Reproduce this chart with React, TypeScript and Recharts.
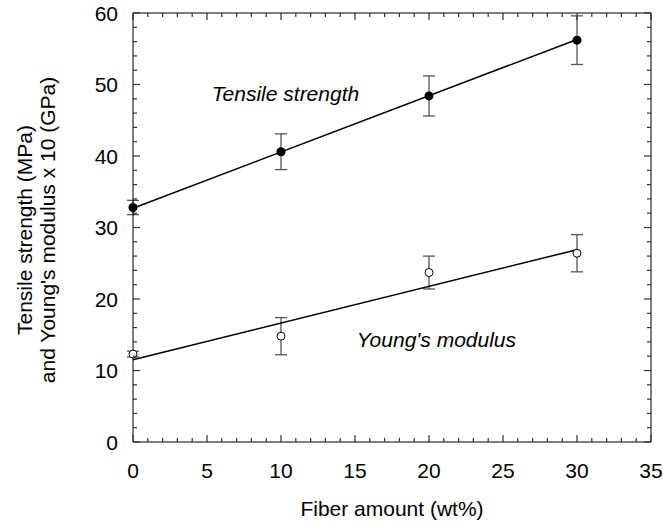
import React from 'react';
import { ComposedChart, Scatter, XAxis, YAxis, ErrorBar, ReferenceDot, Label } from 'recharts';

// measured points (wt% fiber)
const fiber = [0, 10, 20, 30];
const tensile = [32.8, 40.6, 48.4, 56.2];
const tensileErr = [1.0, 2.5, 2.8, 3.4];
const modulus = [12.3, 14.8, 23.7, 26.4];
const modulusErr = [0.4, 2.6, 2.3, 2.6];

// linear fits, read at both ends
const fitX = [0, 30];
const tensileFit = [32.7, 56.3];
const modulusFit = [11.5, 26.9];

const xMajor = [0, 5, 10, 15, 20, 25, 30, 35];
const yMajor = [0, 10, 20, 30, 40, 50, 60];
const xMinor = Array.from({ length: 36 }, (_, i) => i);
const yMinor = Array.from({ length: 31 }, (_, i) => i * 2);

const FONT = '"Liberation Sans", Arial, sans-serif';
const TICK = '#333';

const tensileRows = fiber.map((x, i) => ({ x, y: tensile[i], err: tensileErr[i] }));
const modulusRows = fiber.map((x, i) => ({ x, y: modulus[i], err: modulusErr[i] }));
const tensileLine = fitX.map((x, i) => ({ x, y: tensileFit[i] }));
const modulusLine = fitX.map((x, i) => ({ x, y: modulusFit[i] }));

const BottomTick = (p: any) => {
  const v = p.payload.value;
  const major = xMajor.includes(v);
  return (
    <g>
      <rect x={p.x - 0.6} y={p.y - (major ? 7 : 4)} width={1.2} height={major ? 7 : 4} fill={TICK} />
      {major && (
        <text x={p.x} y={p.y + 36} textAnchor="middle" fontSize={21} fontFamily={FONT} fill="#000">
          {v}
        </text>
      )}
    </g>
  );
};

const TopTick = (p: any) => {
  const major = xMajor.includes(p.payload.value);
  return <rect x={p.x - 0.6} y={p.y} width={1.2} height={major ? 7 : 4} fill={TICK} />;
};

const LeftTick = (p: any) => {
  const v = p.payload.value;
  const major = yMajor.includes(v);
  return (
    <g>
      <rect x={p.x} y={p.y - 0.6} width={major ? 7 : 4} height={1.2} fill={TICK} />
      {major && (
        <text x={p.x - 15} y={p.y + 7.5} textAnchor="end" fontSize={21} fontFamily={FONT} fill="#000">
          {v}
        </text>
      )}
    </g>
  );
};

const RightTick = (p: any) => {
  const major = yMajor.includes(p.payload.value);
  return <rect x={p.x - (major ? 7 : 4)} y={p.y - 0.6} width={major ? 7 : 4} height={1.2} fill={TICK} />;
};

const FilledDot = (p: any) => <circle cx={p.cx} cy={p.cy} r={4.5} fill="#000" />;
const OpenDot = (p: any) => <circle cx={p.cx} cy={p.cy} r={4} fill="#fff" stroke="#000" strokeWidth={1} />;
const NoDot = () => <g />;

const YTitle = (p: any) => {
  const vb = p.viewBox;
  return (
    <g fontFamily={FONT} fontSize={21} fill="#000">
      <text transform={`translate(${vb.x + 32}, 230) rotate(-90)`} textAnchor="middle">
        Tensile strength (MPa)
      </text>
      <text transform={`translate(${vb.x + 55}, 230) rotate(-90)`} textAnchor="middle">
        and Young's modulus x 10 (GPa)
      </text>
    </g>
  );
};

export default function App() {
  return (
    <div style={{ position: 'absolute', left: 0, top: 0, background: '#fff' }}>
      <ComposedChart width={663} height={523} margin={{ top: 12, right: 11, bottom: 0, left: 0 }}>
        <XAxis
          dataKey="x"
          type="number"
          domain={[0, 35]}
          ticks={xMinor}
          interval={0}
          tickSize={0}
          tickMargin={0}
          tick={BottomTick}
          height={81}
          axisLine={{ stroke: '#000' }}
        >
          <Label
            value="Fiber amount (wt%)"
            position="insideBottom"
            offset={7}
            style={{ fontFamily: FONT, fontSize: 21, fill: '#000' }}
          />
        </XAxis>
        <XAxis
          xAxisId="top"
          orientation="top"
          dataKey="x"
          type="number"
          domain={[0, 35]}
          ticks={xMinor}
          interval={0}
          tickSize={0}
          tickMargin={0}
          tick={TopTick}
          height={1}
          axisLine={{ stroke: '#000' }}
        />
        <YAxis
          dataKey="y"
          type="number"
          domain={[0, 60]}
          ticks={yMinor}
          interval={0}
          tickSize={0}
          tickMargin={0}
          tick={LeftTick}
          width={133}
          axisLine={{ stroke: '#000' }}
        >
          <Label content={YTitle} />
        </YAxis>
        <YAxis
          yAxisId="right"
          orientation="right"
          dataKey="y"
          type="number"
          domain={[0, 60]}
          ticks={yMinor}
          interval={0}
          tickSize={0}
          tickMargin={0}
          tick={RightTick}
          width={1}
          axisLine={{ stroke: '#000' }}
        />
        <Scatter data={tensileLine} xAxisId="top" yAxisId="right" line={{ stroke: '#000', strokeWidth: 1.5 }} shape={NoDot} isAnimationActive={false} />
        <Scatter data={modulusLine} xAxisId="top" yAxisId="right" line={{ stroke: '#000', strokeWidth: 1.5 }} shape={NoDot} isAnimationActive={false} />
        <Scatter data={tensileRows} shape={FilledDot} isAnimationActive={false}>
          <ErrorBar dataKey="err" direction="y" width={6} stroke="#555" strokeWidth={1.3} isAnimationActive={false} />
        </Scatter>
        <Scatter data={modulusRows} shape={OpenDot} isAnimationActive={false}>
          <ErrorBar dataKey="err" direction="y" width={6} stroke="#555" strokeWidth={1.3} isAnimationActive={false} />
        </Scatter>
        <ReferenceDot
          x={10.3}
          y={48.8}
          r={0}
          label={{ value: 'Tensile strength', position: 'center', fontStyle: 'italic', fontSize: 21, fontFamily: FONT, fill: '#000' }}
        />
        <ReferenceDot
          x={20.5}
          y={14.3}
          r={0}
          label={{ value: "Young's modulus", position: 'center', fontStyle: 'italic', fontSize: 21, fontFamily: FONT, fill: '#000' }}
        />
      </ComposedChart>
    </div>
  );
}
